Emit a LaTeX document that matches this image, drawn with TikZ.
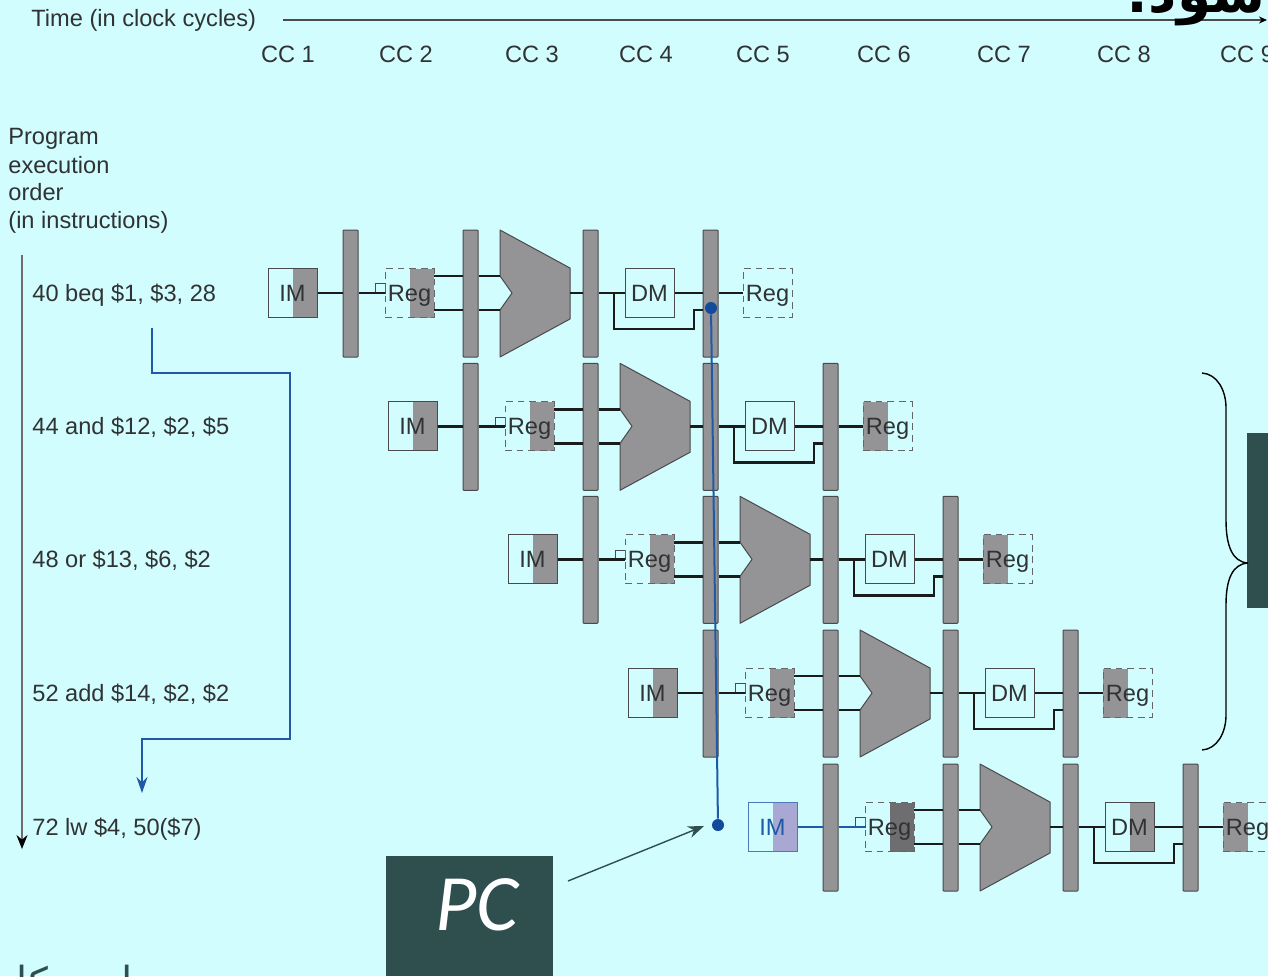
\documentclass[tikz,border=0pt]{standalone}
\usepackage{fontspec}
\setmainfont{Liberation Sans}
\newfontfamily\arabicfont[Script=Arabic]{DejaVu Sans}
\newfontfamily\pcfont{Carlito}
\TeXXeTstate=1
\usetikzlibrary{arrows.meta}
\definecolor{bgc}{HTML}{D1FDFE}
\definecolor{pipe}{HTML}{949497}
\definecolor{edge}{HTML}{4A4A4C}
\definecolor{txt}{HTML}{303233}
\definecolor{wirec}{HTML}{1A1C1C}
\definecolor{teal}{HTML}{2F4F4F}
\definecolor{blu}{HTML}{1F59A8}
\definecolor{blud}{HTML}{124A9C}
\definecolor{purp}{HTML}{A9A8D3}
\definecolor{darkshade}{HTML}{6E6D70}
\tikzset{
  lab/.style={font=\fontsize{11.8pt}{14pt}\selectfont,text=txt,inner sep=0pt,text height=8.45pt,text depth=0pt},
  labl/.style={lab,anchor=west},
  pipebar/.style={draw=edge,line width=.5pt,fill=pipe,minimum width=7.5pt,minimum height=63.5pt,inner sep=0pt,rounded corners=.4pt},
  unit/.style={font=\fontsize{11.8pt}{14pt}\selectfont,text=txt,minimum width=24.5pt,minimum height=24.5pt,inner sep=0pt,line width=.5pt,text height=8.45pt,text depth=0pt},
  solidunit/.style={unit,draw=edge},
  dashunit/.style={unit,draw=edge!85,dash pattern=on 3.4pt off 2.4pt},
  shaderight/.style={path picture={\fill[#1] (path picture bounding box.north) rectangle (path picture bounding box.south east);}},
  shadeleft/.style={path picture={\fill[#1] (path picture bounding box.north) rectangle (path picture bounding box.south west);}},
  noshade/.style={},
  blueunit/.style={unit,draw=blu!80,text=blu},
  wire/.style={draw=wirec,line width=1.4pt},
  bluewire/.style={draw=blu,line width=1pt},
  alu/.style={draw=edge,line width=.5pt,fill=pipe,line join=round},
  tinybox/.style={draw=edge,line width=.5pt,minimum width=5pt,minimum height=4.6pt,inner sep=0pt},
  flow/.style={draw=blu,line width=1pt},
  dot/.style={circle,fill=blud,minimum size=6pt,inner sep=0pt},
  brace/.style={draw=black,line width=.7pt}
}
% #1 name, #2 dx, #3 dy, #4 IM style, #5 first wire, #6 Reg style, #7 DM style, #8 last Reg style
\newcommand{\stagerow}[8]{%
\begin{scope}[shift={(#2,#3)}]
  \coordinate (#1ra) at (434,276);
  \coordinate (#1rb) at (434,310);
  \coordinate (#1aua) at (500,276);
  \coordinate (#1aub) at (500,310);
  \coordinate (#1auo) at (570,293);
  \coordinate (#1br) at (614,293);
  \node[#4] (#1im) at (292.5,293) {IM};
  \node[pipebar] (#1b1) at (350.5,293.5) {};
  \node[tinybox] (#1sq) at (380,288.5) {};
  \node[#6] (#1rg) at (409.5,293) {Reg};
  \node[pipebar] (#1b2) at (470.5,293.5) {};
  \filldraw[alu] (500,230) -- (570,268) -- (570,319) -- (500,357) -- (500,310) -- (512,293) -- (500,276) -- cycle;
  \node[pipebar] (#1b3) at (590.5,293.5) {};
  \node[#7] (#1dm) at (649.5,293) {DM};
  \node[pipebar] (#1b4) at (710.5,293.5) {};
  \node[#8] (#1wb) at (767.5,293) {Reg};
  \coordinate (#1bi) at (#1b4.west |- #1aub);
  \draw[#5] (#1im.east) -- (#1b1.west |- #1im.east);
  \draw[#5] (#1b1.east |- #1rg.west) -- (#1rg.west);
  \draw[wire] (#1ra) -- (#1b2.west |- #1ra);
  \draw[wire] (#1b2.east |- #1ra) -- (#1aua);
  \draw[wire] (#1rb) -- (#1b2.west |- #1rb);
  \draw[wire] (#1b2.east |- #1rb) -- (#1aub);
  \draw[wire] (#1auo) -- (#1b3.west |- #1auo);
  \draw[wire] (#1b3.east |- #1dm.west) -- (#1dm.west);
  \draw[wire] (#1dm.east) -- (#1b4.west |- #1dm.east);
  \draw[wire] (#1b4.east |- #1wb.west) -- (#1wb.west);
  \draw[wire,line join=miter] (#1br) -- (614,329) -- (694,329) -- (694,310) -- (#1bi);
\end{scope}}
\begin{document}
\begin{tikzpicture}[x=0.5pt,y=-0.5pt]
\useasboundingbox (0,0) rectangle (1268,976);
\clip (0,0) rectangle (1268,976);
\fill[bgc] (0,0) rectangle (1268,976);
% time axis
\node[labl] (timelab) at (31,18) {Time (in clock cycles)};
\coordinate (tstart) at (283,20);
\coordinate (tend) at (1267,20);
\draw[draw=edge,line width=.8pt,-{Stealth[length=4pt,width=3.5pt,color=black]}] (tstart) -- (tend);
\node[lab] (cc1) at (288,54) {CC 1};
\node[lab] (cc2) at (406,54) {CC 2};
\node[lab] (cc3) at (532,54) {CC 3};
\node[lab] (cc4) at (646,54) {CC 4};
\node[lab] (cc5) at (763,54) {CC 5};
\node[lab] (cc6) at (884,54) {CC 6};
\node[lab] (cc7) at (1004,54) {CC 7};
\node[lab] (cc8) at (1124,54) {CC 8};
\node[lab] (cc9) at (1247,54) {CC 9};
% program order
\node[labl] (p1) at (8,136) {Program};
\node[labl] (p2) at (8,165) {execution};
\node[labl] (p3) at (8,192) {order};
\node[labl] (p4) at (8,220) {(in instructions)};
\coordinate (ostart) at (22,255);
\coordinate (oend) at (22,849);
\draw[draw=edge!80,line width=.8pt,-{Stealth[length=7pt,width=5.5pt,color=black]}] (ostart) -- (oend);
\node[labl] (i1) at (32,293) {40 beq \$1, \$3, 28};
\node[labl] (i2) at (32,426) {44 and \$12, \$2, \$5};
\node[labl] (i3) at (32,559) {48 or \$13, \$6, \$2};
\node[labl] (i4) at (32,693) {52 add \$14, \$2, \$2};
\node[labl] (i5) at (32,827) {72 lw \$4, 50(\$7)};
% rows
\stagerow{a}{0}{0}{solidunit,shaderight=pipe}{wire}{dashunit,shaderight=pipe}{solidunit}{dashunit}
\stagerow{b}{120}{133.3}{solidunit,shaderight=pipe}{wire}{dashunit,shaderight=pipe}{solidunit}{dashunit,shadeleft=pipe}
\stagerow{c}{240}{266.3}{solidunit,shaderight=pipe}{wire}{dashunit,shaderight=pipe}{solidunit}{dashunit,shadeleft=pipe}
\stagerow{d}{360}{400}{solidunit,shaderight=pipe}{wire}{dashunit,shaderight=pipe}{solidunit}{dashunit,shadeleft=pipe}
\stagerow{e}{480}{534}{blueunit,shaderight=purp}{bluewire}{dashunit,shaderight=darkshade}{solidunit,shaderight=pipe}{dashunit,shadeleft=pipe}
% branch flow
\coordinate (fa) at (152,328);
\coordinate (fb) at (142,793);
\draw[flow,-{Stealth[length=8pt,width=5.5pt]}] (fa) -- (152,373) -- (290,373) -- (290,739) -- (142,739) -- (fb);
\node[dot] (d1) at (711,308) {};
\node[dot] (d2) at (718,825) {};
\draw[draw=blu,line width=1pt] (d1) -- (d2);
% brace and dark box
\node[fill=teal,minimum width=10.5pt,minimum height=87.5pt,inner sep=0pt] (sidebox) at (1257.5,520.5) {};
\coordinate (btop) at (1202,373);
\coordinate (bbot) at (1202,750);
\coordinate (btip) at (1248,563);
\draw[brace] (btop) .. controls (1217,374) and (1226,390) .. (1226,408) -- (1226,520) .. controls (1226,545) and (1232,562) .. (btip);
\draw[brace] (btip) .. controls (1232,564) and (1226,580) .. (1226,605) -- (1226,715) .. controls (1226,733) and (1217,749) .. (bbot);
% PC
\node[fill=teal,minimum width=83.5pt,minimum height=60pt,inner sep=0pt] (pcbox) at (469.5,916) {};
\node[text=white,inner sep=0pt,font=\pcfont\itshape\fontsize{40pt}{44pt}\selectfont] (pclab) at (477,905) {PC};
\coordinate (pcs) at (568,881);
\coordinate (pce) at (704,826);
\draw[draw=teal,line width=.7pt,-{Stealth[length=8pt,width=6pt]}] (pcs) -- (pce);
% clipped Persian fragments
\node[anchor=base east,inner sep=0pt,font=\arabicfont\bfseries\fontsize{27.5pt}{32pt}\selectfont,text=black] (topfa) at (1266,12) {\beginR شود:\endR};
\node[anchor=base,inner sep=0pt,font=\arabicfont\fontsize{20pt}{24pt}\selectfont,text=teal] (botfa0) at (22,995) {\beginR ا\endR};
\node[anchor=base,inner sep=0pt,font=\arabicfont\fontsize{20pt}{24pt}\selectfont,text=teal] (botfa1) at (30,996) {\beginR ک\endR};
\node[anchor=base,inner sep=0pt,font=\arabicfont\fontsize{20pt}{24pt}\selectfont,text=teal] (botfa2) at (118,995) {\beginR ل\endR};
\end{tikzpicture}
\end{document}
